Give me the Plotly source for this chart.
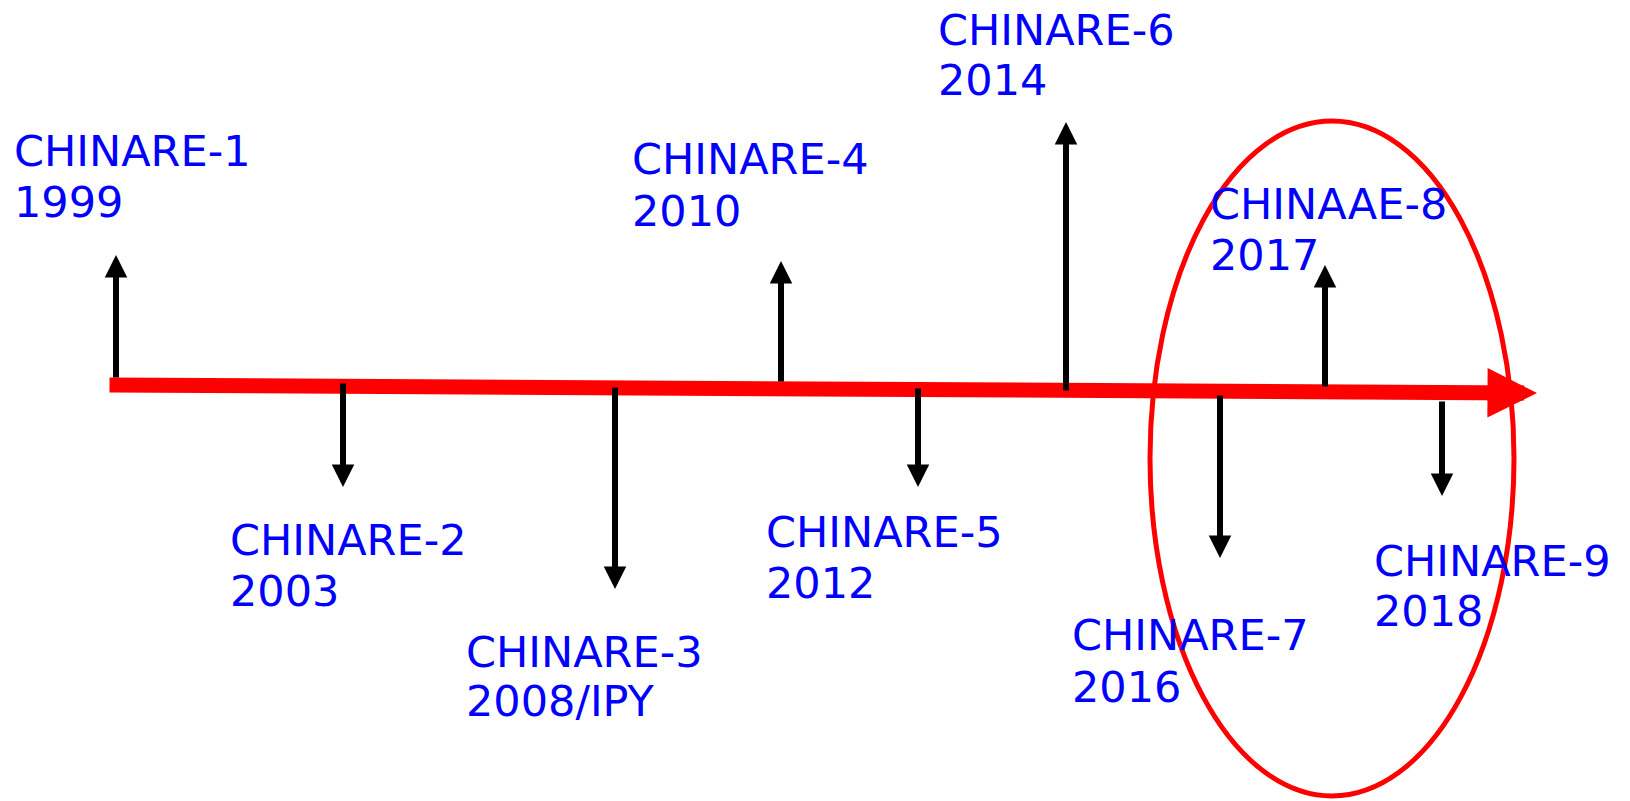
import plotly.graph_objects as go

# ---- data ----
missions = ["CHINARE-1", "CHINARE-2", "CHINARE-3", "CHINARE-4", "CHINARE-5",
            "CHINARE-6", "CHINARE-7", "CHINAAE-8", "CHINARE-9"]
years = ["1999", "2003", "2008/IPY", "2010", "2012", "2014", "2016", "2017", "2018"]

# ---- layout (canvas coordinates) ----
arrow_x = [116, 343, 615, 781, 918, 1066, 1220, 1325, 1442]
arrow_base_y = [379, 382, 386, 383, 387, 392, 394, 388, 400]
arrow_tip_y = [255, 487, 589, 261, 487, 122, 558, 265, 496]

label_x = [12, 228, 464, 630, 764, 936, 1070, 1208, 1372]
name_y = [151, 540, 652, 159, 532, 30, 635, 204, 561]
year_y = [202, 591, 701, 211, 583, 80, 687, 255, 611]

timeline_x = [108, 1537]
timeline_y = [385, 393]

ellipse_x = [1150, 1514]
ellipse_y = [121, 796]

W, H = 1630, 801
PAD = 8  # default page body margin

fig = go.Figure()
fig.add_trace(go.Scatter(x=[PAD, W], y=[PAD, H], mode="markers",
                         marker=dict(opacity=0), hoverinfo="skip", showlegend=False))

annotations = []
# main red timeline arrow
annotations.append(dict(
    x=timeline_x[1], y=timeline_y[1], ax=timeline_x[0], ay=timeline_y[0],
    xref="x", yref="y", axref="x", ayref="y", text="", showarrow=True,
    arrowhead=2, arrowsize=0.66, arrowwidth=15, arrowcolor="#FF0000", standoff=0))

# black event arrows
for xa, yb, yt in zip(arrow_x, arrow_base_y, arrow_tip_y):
    annotations.append(dict(
        x=xa, y=yt, ax=xa, ay=yb,
        xref="x", yref="y", axref="x", ayref="y", text="", showarrow=True,
        arrowhead=2, arrowsize=0.75, arrowwidth=6, arrowcolor="#000000", standoff=0))

# labels (mission name line and year line)
label_font = dict(family="DejaVu Sans", size=43, color="#0000FF")
for name, yr, lx, ny, yy in zip(missions, years, label_x, name_y, year_y):
    annotations.append(dict(
        x=lx, y=ny, xref="x", yref="y", text=name, showarrow=False,
        xanchor="left", yanchor="middle", align="left", font=label_font))
    annotations.append(dict(
        x=lx, y=yy, xref="x", yref="y", text=yr, showarrow=False,
        xanchor="left", yanchor="middle", align="left", font=label_font))

fig.update_layout(
    width=W - PAD, height=H - PAD, autosize=False,
    margin=dict(l=0, r=0, t=0, b=0),
    paper_bgcolor="white", plot_bgcolor="white",
    xaxis=dict(range=[PAD, W], visible=False, fixedrange=True),
    yaxis=dict(range=[H, PAD], visible=False, fixedrange=True),
    annotations=annotations,
    shapes=[dict(type="circle", xref="x", yref="y",
                 x0=ellipse_x[0], x1=ellipse_x[1], y0=ellipse_y[0], y1=ellipse_y[1],
                 line=dict(color="#FF0000", width=5), layer="above")],
    showlegend=False,
)

fig.write_html("out.html", config={"displayModeBar": False})
